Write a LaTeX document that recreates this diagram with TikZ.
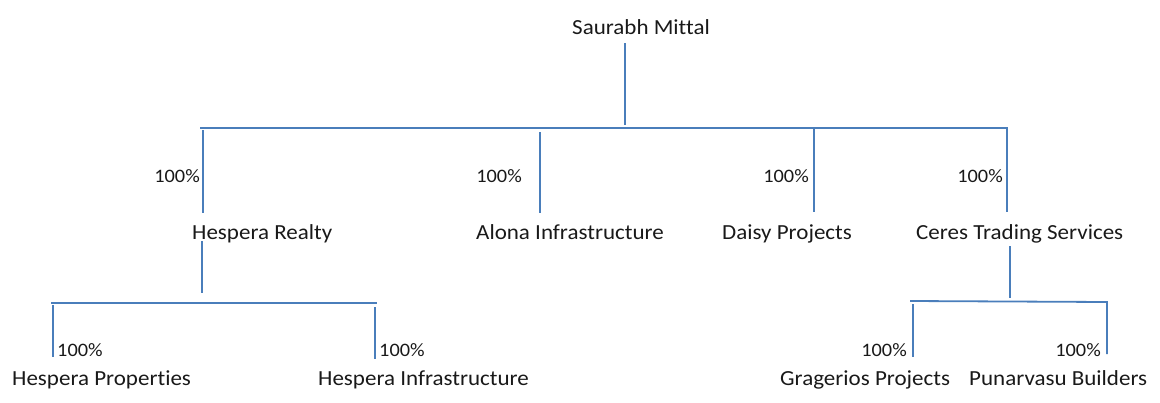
\documentclass[tikz,border=0pt]{standalone}
\usepackage{fontspec}
\setmainfont{Carlito}[Ligatures=NoCommon,FakeStretch=1.07]
\definecolor{linkblue}{RGB}{74,126,187}
\begin{document}
\begin{tikzpicture}[x=1pt,y=-1pt,
  lbl/.style={inner sep=0pt,font=\fontsize{21.5}{25}\selectfont,text=black!90},
  pct/.style={inner sep=0pt,font=\fontsize{19}{23}\selectfont,text=black!90},
  link/.style={draw=linkblue,line width=1.8pt}]
\useasboundingbox (0,0) rectangle (1160,402);
% names
\node[lbl,anchor=base west] (root) at (572,34) {Saurabh Mittal};
\node[lbl,anchor=base west] (hr) at (192,239) {Hespera Realty};
\node[lbl,anchor=base west] (al) at (476,239) {Alona Infrastructure};
\node[lbl,anchor=base west] (dp) at (722,239) {Daisy Projects};
\node[lbl,anchor=base west] (ct) at (916,239) {Ceres Trading Services};
\node[lbl,anchor=base west] (hp) at (12,385) {Hespera Properties};
\node[lbl,anchor=base west] (hi) at (318,385) {Hespera Infrastructure};
\node[lbl,anchor=base west] (gp) at (780,385) {Gragerios Projects};
\node[lbl,anchor=base west] (pb) at (969,385) {Punarvasu Builders};
% percentages
\node[pct,anchor=base east] (p1) at (200,182) {100\%};
\node[pct,anchor=base east] (p2) at (522,182) {100\%};
\node[pct,anchor=base east] (p3) at (809,182) {100\%};
\node[pct,anchor=base east] (p4) at (1003,182) {100\%};
\node[pct,anchor=base west] (p5) at (57,356) {100\%};
\node[pct,anchor=base west] (p6) at (379,356) {100\%};
\node[pct,anchor=base east] (p7) at (907,356) {100\%};
\node[pct,anchor=base east] (p8) at (1101,356) {100\%};
% connector points
\coordinate (r1) at (625,43);
\coordinate (r2) at (625,125);
\coordinate (busL) at (200,128);
\coordinate (busR) at (1007,128);
\coordinate (a1) at (203,130);  \coordinate (a2) at (203,213);
\coordinate (b1) at (540,132);  \coordinate (b2) at (540,213);
\coordinate (c1) at (814,128);  \coordinate (c2) at (814,212);
\coordinate (d2) at (1007,212);
\coordinate (h1) at (202,241);  \coordinate (h2) at (202,293);
\coordinate (hbL) at (51,303);  \coordinate (hbR) at (377,303);
\coordinate (e1) at (53,305);   \coordinate (e2) at (53,357);
\coordinate (f1) at (375,307);  \coordinate (f2) at (375,359);
\coordinate (k1) at (1010,246); \coordinate (k2) at (1010,298);
\coordinate (cbL) at (910,301); \coordinate (cbR) at (1107,302);
\coordinate (g1) at (913,304);  \coordinate (g2) at (913,357);
\coordinate (q2) at (1107,354);
% connectors
\draw[link] (r1) -- (r2);
\draw[link] (busL) -- (busR) -- (d2);
\draw[link] (a1) -- (a2);
\draw[link] (b1) -- (b2);
\draw[link] (c1) -- (c2);
\draw[link] (h1) -- (h2);
\draw[link] (hbL) -- (hbR);
\draw[link] (e1) -- (e2);
\draw[link] (f1) -- (f2);
\draw[link] (k1) -- (k2);
\draw[link] (cbL) -- (cbR) -- (q2);
\draw[link] (g1) -- (g2);
\end{tikzpicture}
\end{document}
